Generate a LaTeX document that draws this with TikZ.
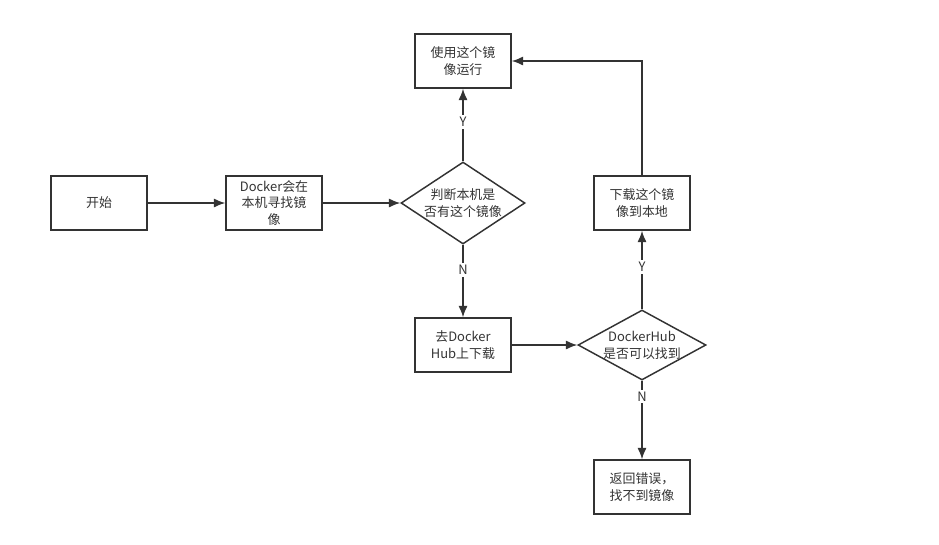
\documentclass[tikz,border=0pt]{standalone}
\usepackage{fontspec}
\setmainfont{Noto Sans CJK SC}
\usetikzlibrary{shapes.geometric,arrows.meta}
\newdimen\px \px=0.75pt
\definecolor{ln}{HTML}{333333}
\begin{document}
\begin{tikzpicture}[x=0.75pt,y=-0.75pt,
  box/.style={draw=ln,line width=1.1pt,minimum width=96\px,minimum height=54\px,inner sep=0pt,align=center,font=\fontsize{9.7pt}{12.6pt}\selectfont,text=ln},
  diam/.style={draw=ln,line width=1.1pt,diamond,inner sep=0pt},
  txt/.style={align=center,font=\fontsize{9.7pt}{12.6pt}\selectfont,text=ln,inner sep=0pt},
  arr/.style={draw=ln,line width=1.1pt,-{Latex[length=8.5pt,width=6.8pt]}},
  lab/.style={fill=white,font=\fontsize{9.7pt}{11pt}\selectfont,text=ln,inner sep=1.5pt}]
\useasboundingbox (0,0) rectangle (939,544);
\node[box] (start) at (99,203) {开始};
\node[box] (search) at (274,203) {Docker会在\\本机寻找镜\\像};
\node[diam,minimum width=124\px,minimum height=82\px] (d1) at (463,203) {};
\node[txt] (d1t) at (d1) {判断本机是\\否有这个镜像};
\node[box] (use) at (463,61) {使用这个镜\\像运行};
\node[box] (hub) at (463,345) {去Docker\\Hub上下载};
\node[diam,minimum width=128\px,minimum height=70\px] (d2) at (642,345) {};
\node[txt] (d2t) at (d2) {DockerHub\\是否可以找到};
\node[box] (dl) at (642,203) {下载这个镜\\像到本地};
\node[box] (err) at (642,487) {返回错误，\\找不到镜像};
\draw[arr] (start.east) -- (search.west);
\draw[arr] (search.east) -- (d1.west);
\draw[arr] (d1.north) -- node[lab,pos=0.54] (y1) {Y} (use.south);
\draw[arr] (d1.south) -- node[lab,pos=0.35] (n1) {N} (hub.north);
\draw[arr] (hub.east) -- (d2.west);
\draw[arr] (d2.north) -- node[lab,pos=0.54] (y2) {Y} (dl.south);
\draw[arr] (d2.south) -- node[lab,pos=0.2] (n2) {N} (err.north);
\draw[arr] (dl.north) |- (use.east);
\end{tikzpicture}
\end{document}
